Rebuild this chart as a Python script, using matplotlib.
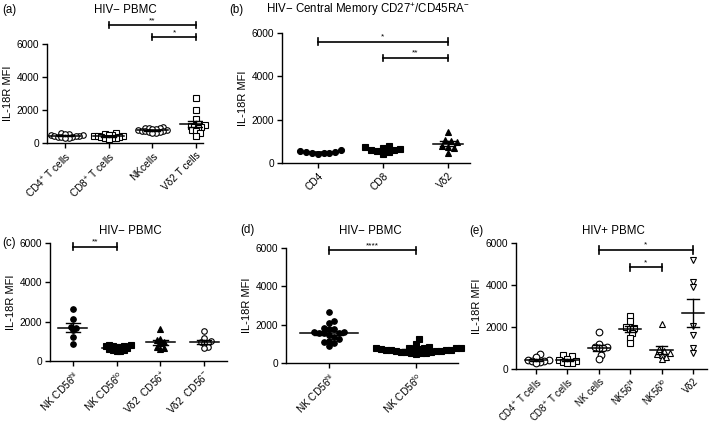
import numpy as np
import matplotlib
matplotlib.use("Agg")
import matplotlib.pyplot as plt

plt.rcParams["font.family"] = ["Liberation Sans", "DejaVu Sans"]
plt.rcParams["mathtext.fontset"] = "custom"
plt.rcParams["mathtext.rm"] = "Liberation Sans"
plt.rcParams["mathtext.it"] = "Liberation Sans:italic"
plt.rcParams["mathtext.bf"] = "Liberation Sans:bold"

# ---- data (IL-18R MFI) ----
# (a) HIV- PBMC
a_labels = ["CD4$^{+}$ T cells", "CD8$^{+}$ T cells", "NKcells", "V\u03b42 T cells"]
a_cd4 = [600, 560, 520, 500, 470, 450, 430, 410, 390, 370, 350, 320, 300]
a_cd8 = [600, 550, 500, 470, 450, 420, 400, 380, 350, 320, 300, 280, 250]
a_nk = [950, 920, 900, 880, 860, 840, 800, 780, 750, 720, 700, 680, 650, 620, 600]
a_vd2 = [2700, 2000, 1450, 1150, 1100, 1050, 1000, 950, 900, 800, 700, 600, 450]

# (b) HIV- central memory
b_labels = ["CD4", "CD8", "V\u03b42"]
b_cd4 = [620, 560, 520, 500, 480, 460, 440, 430]
b_cd8 = [780, 750, 700, 650, 620, 600, 550, 500, 400]
b_vd2 = [1420, 1050, 1000, 950, 800, 750, 700, 470]

# (c) HIV- PBMC, NK / Vd2 subsets
c_labels = ["NK CD56$^{\\mathrm{hi}}$", "NK CD56$^{\\mathrm{lo}}$",
            "V\u03b42  CD56$^{+}$", "V\u03b42  CD56$^{-}$"]
c_nkhi = [2640, 2160, 1740, 1700, 1560, 1230, 850]
c_nklo = [820, 800, 780, 760, 740, 720, 700, 660, 620, 580, 550, 520, 500]
c_vd2p = [1650, 1100, 1050, 950, 900, 700, 650, 600]
c_vd2n = [1530, 1150, 1000, 960, 940, 900, 700, 650]

# (d) HIV- PBMC, NK CD56hi vs lo
d_labels = ["NK CD56$^{\\mathrm{hi}}$", "NK CD56$^{\\mathrm{lo}}$"]
d_nkhi = [2640, 2210, 2100, 1830, 1770, 1750, 1630, 1600, 1580, 1570, 1560,
          1460, 1370, 1250, 1160, 1110, 1050, 890]
d_nklo = [1250, 1000, 820, 800, 790, 780, 770, 760, 750, 740, 720, 700, 690,
          680, 660, 650, 640, 620, 600, 580, 560, 540, 520, 500, 480]

# (e) HIV+ PBMC
e_labels = ["CD4$^{+}$ T cells", "CD8$^{+}$ T cells", "NK cells",
            "NK56$^{\\mathrm{hi}}$", "NK56$^{\\mathrm{lo}}$", "V\u03b42"]
e_cd4 = [710, 550, 450, 420, 400, 380, 350, 300]
e_cd8 = [650, 600, 500, 450, 400, 350, 300, 280]
e_nk = [1750, 1190, 1060, 1030, 1000, 980, 650, 460]
e_nkhi = [2520, 2300, 1980, 1970, 1900, 1700, 1500, 1220]
e_nklo = [2140, 940, 860, 750, 720, 670, 590, 460]
e_vd2 = [5200, 4130, 3890, 2050, 1620, 1020, 750]


def swarm_offsets(ax, values, x0, diam_px):
    """beeswarm style x offsets (data units); diam_px < marker size lets points overlap"""
    bb = ax.get_window_extent()
    xl, yl = ax.get_xlim(), ax.get_ylim()
    sx = bb.width / (xl[1] - xl[0])
    sy = bb.height / (yl[1] - yl[0])
    vals = np.asarray(values, float)
    order = np.argsort(vals)
    placed = []
    xs = np.zeros(len(vals))
    for i in order:
        y = vals[i] * sy
        k = 0
        while True:
            cands = [0.0] if k == 0 else [k * diam_px * 0.5, -k * diam_px * 0.5]
            ok = None
            for c in cands:
                if all((c - px) ** 2 + (y - py) ** 2 >= diam_px ** 2 for px, py in placed):
                    ok = c
                    break
            if ok is not None:
                break
            k += 1
        placed.append((ok, y))
        xs[i] = x0 + ok / sx
    return xs


def panel(ax, groups, labels, markers, fills, xlim, ms=4.2, mean_w=0.33, diam=None,
          xfs=7.3):
    ax.set_xlim(*xlim)
    ax.set_ylim(0, 6000)
    ax.set_yticks([0, 2000, 4000, 6000])
    ax.set_xticks(range(len(groups)))
    ax.set_xticklabels(labels, rotation=45, ha="right", rotation_mode="anchor")
    for s in ["top", "right"]:
        ax.spines[s].set_visible(False)
    for s in ["left", "bottom"]:
        ax.spines[s].set_linewidth(1.0)
    ax.tick_params(width=1.0, length=3.5, labelsize=7.3, pad=2)
    ax.tick_params(axis="x", labelsize=xfs)
    ax.set_ylabel("IL-18R MFI", fontsize=8, labelpad=3)
    if diam is None:
        diam = ms * 1.39 * 0.55
    for i, vals in enumerate(groups):
        xs = swarm_offsets(ax, vals, i, diam)
        ax.plot(xs, vals, linestyle="none", marker=markers[i], ms=ms,
                mfc="black" if fills[i] else "white", mec="black", mew=0.8,
                clip_on=False, zorder=3)
        m = np.mean(vals)
        sem = np.std(vals, ddof=1) / np.sqrt(len(vals))
        ax.plot([i - mean_w, i + mean_w], [m, m], color="black", lw=1.1, zorder=4)
        ax.plot([i, i], [m - sem, m + sem], color="black", lw=1.0, zorder=4)
        for yy in (m - sem, m + sem):
            ax.plot([i - mean_w * 0.5, i + mean_w * 0.5], [yy, yy], color="black", lw=1.0, zorder=4)


def bracket(ax, x1, x2, y, stars, cap=180):
    ax.plot([x1, x2], [y, y], color="black", lw=1.2, clip_on=False)
    for x in (x1, x2):
        ax.plot([x, x], [y - cap, y + cap], color="black", lw=1.2, clip_on=False)
    ax.text((x1 + x2) / 2, y + 60, stars, ha="center", va="bottom", fontsize=6, clip_on=False)


W, H = 709, 425
fig = plt.figure(figsize=(W / 100, H / 100), dpi=100)


def add_axes(left, right, top, bottom):
    return fig.add_axes([left / W, 1 - bottom / H, (right - left) / W, (bottom - top) / H])


ax_a = add_axes(47, 203, 44, 143)
ax_b = add_axes(282, 470, 33, 163)
ax_c = add_axes(50, 227, 243, 361)
ax_d = add_axes(286, 458, 248, 363)
ax_e = add_axes(516, 707, 243, 369)

panel(ax_a, [a_cd4, a_cd8, a_nk, a_vd2], a_labels, ["o", "s", "o", "s"],
      [False] * 4, (-0.41, 3.16), ms=4.0, mean_w=0.36, diam=3.6)
panel(ax_b, [b_cd4, b_cd8, b_vd2], b_labels, ["o", "s", "^"],
      [True] * 3, (-0.55, 2.34), ms=4.3, mean_w=0.23, diam=5.8)
panel(ax_c, [c_nkhi, c_nklo, c_vd2p, c_vd2n], c_labels, ["o", "s", "^", "o"],
      [True, True, True, False], (-0.52, 3.52), ms=4.0, mean_w=0.33, diam=3.6)
panel(ax_d, [d_nkhi, d_nklo], d_labels, ["o", "s"],
      [True, True], (-0.49, 1.48), ms=4.0, mean_w=0.33, diam=5.0)
panel(ax_e, [e_cd4, e_cd8, e_nk, e_nkhi, e_nklo, e_vd2], e_labels,
      ["o", "s", "o", "s", "^", "v"], [False] * 6, (-0.64, 5.45), ms=4.8, mean_w=0.36,
      diam=4.2, xfs=6.9)

bracket(ax_a, 1, 3, 7150, "**")
bracket(ax_a, 2, 3, 6400, "*")
bracket(ax_b, 0, 2, 5600, "*", cap=150)
bracket(ax_b, 1, 2, 4850, "**", cap=150)
bracket(ax_c, 0, 1, 5800, "**")
bracket(ax_d, 0, 1, 5880, "****")
bracket(ax_e, 2, 5, 5680, "*")
bracket(ax_e, 3, 4, 4840, "*")

# titles and panel letters
fs = 8.3
fig.text(125 / W, 1 - 10 / H, "HIV\u2212 PBMC", ha="center", va="center", fontsize=fs)
fig.text(368 / W, 1 - 10 / H, "HIV\u2212 Central Memory CD27$^{+}$/CD45RA$^{-}$",
         ha="center", va="center", fontsize=fs)
fig.text(130 / W, 1 - 231 / H, "HIV\u2212 PBMC", ha="center", va="center", fontsize=fs)
fig.text(370 / W, 1 - 231 / H, "HIV\u2212 PBMC", ha="center", va="center", fontsize=fs)
fig.text(613 / W, 1 - 231 / H, "HIV+ PBMC", ha="center", va="center", fontsize=fs)

for x, y, t in [(2, 10, "(a)"), (229, 10, "(b)"), (2, 243, "(c)"),
                (240, 230, "(d)"), (469, 231, "(e)")]:
    fig.text(x / W, 1 - y / H, t, ha="left", va="center", fontsize=fs)

fig.savefig("out.png", dpi=100)
